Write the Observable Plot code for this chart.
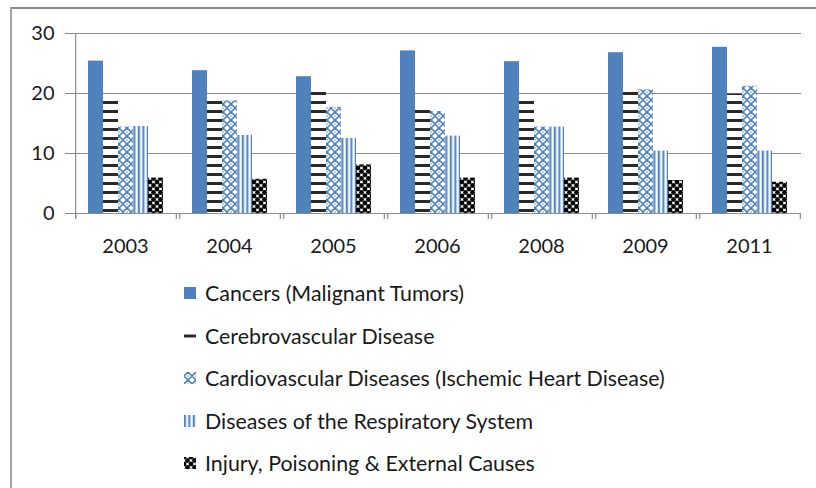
<!DOCTYPE html>
<html>
<head>
<meta charset="utf-8">
<script src="https://cdn.jsdelivr.net/npm/d3@7"></script>
<script src="https://cdn.jsdelivr.net/npm/@observablehq/plot@0.6"></script>
<style>
  html, body { margin: 0; padding: 0; background: #fff; }
  #wrap { position: relative; width: 816px; height: 488px; overflow: hidden; font-family: Lato, "Open Sans", sans-serif; }
  #border { position: absolute; left: 10px; top: 7px; width: 806px; height: 481px;
            border-top: 2px solid #8c8c8c; border-left: 2px solid #a3a3a3; box-sizing: border-box; }
  #chart { position: absolute; left: 0; top: 0; }
  .row { position: absolute; left: 184px; height: 26px; display: flex; align-items: center; }
  .row svg { width: 12px; height: 12px; margin-right: 9px; flex: none; }
  .row span { font-size: 21.4px; color: #1a1a1a; white-space: nowrap; }
</style>
</head>
<body>
<svg width="0" height="0" style="position:absolute">
  <defs>
    <pattern id="p-cerebro" patternUnits="userSpaceOnUse" width="9" height="9">
      <rect width="9" height="9" fill="#fff"/>
      <rect y="2" width="9" height="3" fill="#2a2a2a"/>
    </pattern>
    <pattern id="p-cardio" patternUnits="userSpaceOnUse" width="8" height="8">
      <rect width="8" height="8" fill="#fff"/>
      <path d="M0,4 L4,0 L8,4 L4,8 Z" fill="none" stroke="#4F81BD" stroke-width="1.6"/>
      <circle cx="4" cy="4" r="1.1" fill="#a9c0df"/>
    </pattern>
    <pattern id="p-resp" patternUnits="userSpaceOnUse" width="4.5" height="8">
      <rect width="4.5" height="8" fill="#c9daf0"/>
      <rect x="0" width="1.6" height="8" fill="#4F81BD"/>
      <rect x="2.6" width="1.1" height="8" fill="#ffffff"/>
    </pattern>
    <pattern id="p-injury" patternUnits="userSpaceOnUse" width="7" height="7">
      <rect width="7" height="7" fill="#fff"/>
      <circle cx="0" cy="0" r="2.4" fill="#000"/>
      <circle cx="7" cy="0" r="2.4" fill="#000"/>
      <circle cx="0" cy="7" r="2.4" fill="#000"/>
      <circle cx="7" cy="7" r="2.4" fill="#000"/>
      <circle cx="3.5" cy="3.5" r="2.4" fill="#000"/>
    </pattern>
    <pattern id="l-cerebro" patternUnits="objectBoundingBox" width="1" height="1">
      <rect width="12" height="12" fill="#fff"/>
      <rect y="4.5" width="12" height="3" fill="#2a2a2a"/>
    </pattern>
  </defs>
</svg>
<div id="wrap">
  <div id="border"></div>
  <div id="chart"></div>
  <div id="legend"></div>
</div>
<script>
// ---- data ----
const years = ["2003", "2004", "2005", "2006", "2008", "2009", "2011"];
const seriesNames = [
  "Cancers (Malignant Tumors)",
  "Cerebrovascular Disease",
  "Cardiovascular Diseases (Ischemic Heart Disease)",
  "Diseases of the Respiratory System",
  "Injury, Poisoning & External Causes"
];
const cancers = [25.4, 23.8, 22.8, 27.1, 25.3, 26.8, 27.7];
const cerebro = [18.9, 18.9, 20.5, 17.3, 18.9, 20.4, 19.9];
const cardio  = [14.4, 18.8, 17.7, 17.0, 14.4, 20.6, 21.2];
const resp    = [14.5, 13.0, 12.5, 12.9, 14.4, 10.4, 10.4];
const injury  = [5.9, 5.7, 8.1, 5.9, 5.9, 5.5, 5.2];
const yTicks = [0, 10, 20, 30];

const seriesValues = [cancers, cerebro, cardio, resp, injury];
const fills = ["#4F81BD", "url(#p-cerebro)", "url(#p-cardio)", "url(#p-resp)", "url(#p-injury)"];
const legendFills = ["#4F81BD", "url(#l-cerebro)", "url(#p-cardio)", "url(#p-resp)", "url(#p-injury)"];

const table = [];
years.forEach((yr, j) => seriesNames.forEach((s, i) => {
  table.push({year: yr, series: s, value: seriesValues[i][j], fill: fills[i]});
}));

// ---- layout ----
const W = 816, H = 262;
const mL = 70, mR = 13, mT = 33, mB = 49;
const padOuter = 0.77;
const facetW = (W - mL - mR) / years.length;
const step = facetW / (seriesNames.length + 2 * padOuter);
const edge = step * (0.5 + padOuter);
const gridColor = "#8c8c8c";

const chart = Plot.plot({
  width: W, height: H,
  marginLeft: mL, marginRight: mR, marginTop: mT, marginBottom: mB,
  style: {fontFamily: "Lato, 'Open Sans', sans-serif", background: "transparent", overflow: "visible"},
  fx: {domain: years, padding: 0},
  x: {domain: seriesNames, paddingInner: 0, paddingOuter: padOuter, axis: null},
  y: {domain: [0, 30]},
  color: {type: "identity"},
  marks: [
    Plot.ruleY([10, 20, 30], {stroke: gridColor, strokeWidth: 1.2}),
    Plot.barY(table, {fx: "year", x: "series", y: "value", fill: "fill"}),
    Plot.ruleY([0], {stroke: gridColor, strokeWidth: 1.2}),
    // y axis line (first facet only)
    Plot.ruleX([years[0]], {fx: d => d, x: () => seriesNames[0], dx: -edge, y1: 30, y2: 0, insetBottom: -6, stroke: gridColor, strokeWidth: 1.2}),
    // category boundary ticks
    Plot.ruleX(years, {fx: d => d, x: () => seriesNames[0], dx: -edge, y1: 0, y2: 0, insetBottom: -6, stroke: gridColor, strokeWidth: 1.2}),
    Plot.ruleX(years, {fx: d => d, x: () => seriesNames[seriesNames.length - 1], dx: edge, y1: 0, y2: 0, insetBottom: -6, stroke: gridColor, strokeWidth: 1.2}),
    Plot.axisY({ticks: yTicks, tickSize: 8, tickPadding: 11, fontSize: 20, label: null, stroke: gridColor, fill: "#1a1a1a", tickFormat: d => String(d)}),
    Plot.axisFx({anchor: "bottom", tickSize: 0, tickPadding: 25, fontSize: 20, label: null, fill: "#1a1a1a"})
  ]
});
document.getElementById("chart").appendChild(chart);

// ---- legend ----
const legend = document.getElementById("legend");
const rowCenters = [293, 335.5, 378, 420.5, 463];
seriesNames.forEach((name, i) => {
  const row = document.createElement("div");
  row.className = "row";
  row.style.top = (rowCenters[i] - 13) + "px";
  row.innerHTML = `<svg viewBox="0 0 12 12"><rect width="12" height="12" fill="${legendFills[i]}"/></svg><span></span>`;
  row.querySelector("span").textContent = name;
  legend.appendChild(row);
});
</script>
</body>
</html>
